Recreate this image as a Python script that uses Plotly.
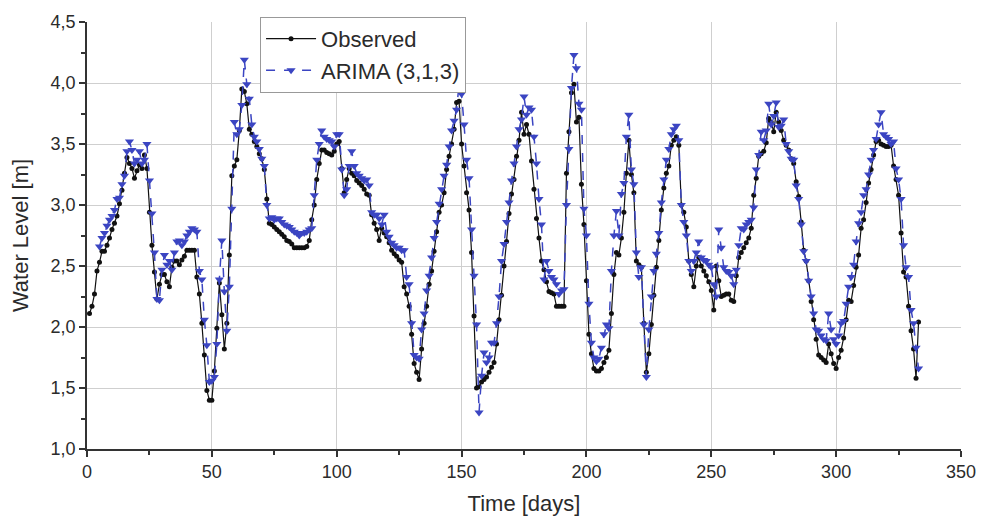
import plotly.graph_objects as go

# Observed water level, days 1..333
observed = [
    2.11, 2.17, 2.27, 2.46, 2.53, 2.62, 2.62, 2.67, 2.73, 2.80,
    2.85, 2.91, 3.01, 3.12, 3.26, 3.39, 3.34, 3.30, 3.22, 3.28,
    3.33, 3.30, 3.41, 3.30, 2.94, 2.67, 2.45, 2.23, 2.35, 2.43,
    2.43, 2.37, 2.33, 2.49, 2.54, 2.54, 2.51, 2.55, 2.58, 2.63,
    2.63, 2.63, 2.63, 2.41, 2.27, 2.03, 1.77, 1.48, 1.40, 1.40,
    1.64, 1.99, 2.36, 2.10, 1.82, 2.03, 2.59, 3.24, 3.32, 3.37,
    3.61, 3.95, 3.93, 3.83, 3.62, 3.58, 3.52, 3.48, 3.42, 3.38,
    3.29, 3.05, 2.85, 2.84, 2.82, 2.80, 2.78, 2.76, 2.74, 2.71,
    2.70, 2.68, 2.65, 2.65, 2.65, 2.65, 2.65, 2.66, 2.71, 2.88,
    3.00, 3.21, 3.34, 3.45, 3.45, 3.43, 3.42, 3.41, 3.44, 3.50,
    3.52, 3.30, 3.10, 3.21, 3.30, 3.26, 3.24, 3.20, 3.18, 3.16,
    3.13, 3.09, 3.08, 2.92, 2.85, 2.80, 2.71, 2.81, 2.77, 2.74,
    2.69, 2.63, 2.60, 2.58, 2.55, 2.53, 2.33, 2.27, 2.17, 1.94,
    1.70, 1.63, 1.57, 1.82, 2.03, 2.17, 2.35, 2.46, 2.62, 2.78,
    2.94, 3.00, 3.10, 3.29, 3.40, 3.50, 3.62, 3.84, 3.85, 3.50,
    3.32, 3.10, 2.96, 2.61, 2.09, 1.50, 1.51, 1.55, 1.57, 1.59,
    1.63, 1.67, 1.71, 1.86, 2.06, 2.26, 2.50, 2.70, 2.93, 3.09,
    3.21, 3.40, 3.53, 3.76, 3.58, 3.66, 3.58, 3.36, 3.13, 2.89,
    2.73, 2.54, 2.47, 2.37, 2.29, 2.28, 2.27, 2.17, 2.17, 2.17,
    2.17, 3.26, 3.60, 3.92, 3.99, 3.68, 3.72, 3.17, 2.84, 2.38,
    1.94, 1.78, 1.66, 1.64, 1.64, 1.66, 1.71, 1.75, 1.81, 2.11,
    2.43, 2.61, 2.59, 2.73, 2.94, 3.26, 3.53, 3.25, 3.10, 2.54,
    2.51, 2.49, 2.03, 1.63, 1.78, 2.02, 2.26, 2.49, 2.71, 2.96,
    3.14, 3.26, 3.32, 3.49, 3.53, 3.56, 3.49, 3.00, 2.94, 2.82,
    2.54, 2.43, 2.33, 2.50, 2.57, 2.50, 2.46, 2.42, 2.37, 2.30,
    2.14, 2.50, 2.38, 2.25, 2.26, 2.27, 2.27, 2.22, 2.21, 2.42,
    2.57, 2.61, 2.65, 2.69, 2.73, 2.81, 3.08, 3.22, 3.40, 3.42,
    3.44, 3.51, 3.71, 3.68, 3.60, 3.76, 3.68, 3.61, 3.53, 3.49,
    3.45, 3.38, 3.34, 3.19, 3.07, 2.86, 2.63, 2.54, 2.38, 2.21,
    2.06, 1.90, 1.77, 1.75, 1.73, 1.71, 1.86, 1.78, 1.70, 1.66,
    1.75, 1.81, 1.91, 2.06, 2.22, 2.21, 2.34, 2.49, 2.59, 2.81,
    2.88, 3.02, 3.18, 3.29, 3.41, 3.52, 3.53, 3.50, 3.49, 3.48,
    3.48, 3.49, 3.32, 3.21, 3.08, 2.77, 2.45, 2.41, 2.17, 1.97,
    1.82, 1.58, 2.04,
]
obs_start_day = 1

# ARIMA (3,1,3) values, days 5..333
arima = [
    2.66, 2.73, 2.77, 2.83, 2.88, 2.91, 2.96, 3.05, 3.06, 3.17,
    3.24, 3.44, 3.52, 3.45, 3.34, 3.37, 3.44, 3.34, 3.37, 3.50,
    3.20, 2.93, 2.61, 2.23, 2.22, 2.47, 2.59, 2.51, 2.54, 2.47,
    2.61, 2.70, 2.71, 2.67, 2.70, 2.75, 2.78, 2.81, 2.80, 2.78,
    2.46, 2.39, 2.06, 1.85, 1.55, 1.56, 1.59, 1.86, 2.39, 2.71,
    2.29, 1.97, 2.33, 2.97, 3.68, 3.58, 3.62, 3.82, 4.19, 3.99,
    3.87, 3.66, 3.56, 3.52, 3.46, 3.38, 3.32, 3.00, 2.89, 2.90,
    2.88, 2.89, 2.89, 2.86, 2.84, 2.83, 2.82, 2.80, 2.78, 2.77,
    2.75, 2.77, 2.77, 2.78, 2.80, 2.81, 3.08, 3.37, 3.50, 3.61,
    3.56, 3.54, 3.53, 3.52, 3.48, 3.58, 3.58, 3.29, 3.08, 3.13,
    3.32, 3.44, 3.32, 3.26, 3.24, 3.22, 3.20, 3.21, 3.16, 2.94,
    2.92, 2.92, 2.89, 2.84, 2.92, 2.78, 2.74, 2.69, 2.67, 2.65,
    2.65, 2.63, 2.63, 2.41, 2.35, 2.03, 1.77, 1.75, 1.74, 1.98,
    2.11, 2.30, 2.42, 2.57, 2.73, 2.86, 3.01, 3.13, 3.24, 3.33,
    3.48, 3.61, 3.69, 3.78, 3.99, 3.91, 3.66, 3.37, 3.22, 2.80,
    2.42, 2.02, 1.30, 1.60, 1.79, 1.71, 1.75, 1.87, 1.87, 2.03,
    2.25, 2.54, 2.68, 2.86, 3.02, 3.20, 3.34, 3.48, 3.62, 3.70,
    3.89, 3.74, 3.80, 3.78, 3.56, 3.34, 3.05, 2.84, 2.39, 2.54,
    2.46, 2.41, 2.39, 2.35, 2.27, 2.30, 2.31, 3.00, 3.46, 3.96,
    4.23, 4.12, 3.83, 3.78, 2.97, 2.75, 2.19, 1.87, 1.75, 1.72,
    1.74, 1.83, 1.94, 2.02, 1.99, 2.46, 2.75, 2.95, 2.75, 3.09,
    3.18, 3.56, 3.74, 3.29, 3.17, 2.61, 2.41, 2.49, 2.02, 1.59,
    1.98, 2.25, 2.46, 2.60, 2.77, 3.02, 3.21, 3.37, 3.46, 3.58,
    3.62, 3.65, 3.53, 3.00, 2.86, 2.75, 2.54, 2.46, 2.54, 2.61,
    2.70, 2.57, 2.55, 2.54, 2.51, 2.49, 2.35, 2.25, 2.80, 2.65,
    2.49, 2.46, 2.45, 2.42, 2.35, 2.47, 2.67, 2.81, 2.80, 2.84,
    2.86, 2.88, 2.98, 3.29, 3.41, 3.60, 3.53, 3.61, 3.83, 3.66,
    3.73, 3.84, 3.64, 3.65, 3.70, 3.50, 3.44, 3.38, 3.37, 3.16,
    3.05, 2.84, 2.62, 2.54, 2.38, 2.25, 2.11, 1.98, 1.97, 1.93,
    1.90, 1.89, 2.11, 1.98, 1.90, 1.86, 1.93, 2.03, 2.05, 2.19,
    2.33, 2.41, 2.51, 2.70, 2.85, 2.94, 3.08, 3.13, 3.25, 3.37,
    3.45, 3.54, 3.66, 3.76, 3.58, 3.56, 3.54, 3.50, 3.52, 3.30,
    3.21, 3.05, 2.67, 2.49, 2.41, 2.14, 2.03, 1.83, 1.66,
]
arima_start_day = 5

x_ticks = [0, 50, 100, 150, 200, 250, 300, 350]
y_ticks = [1.0, 1.5, 2.0, 2.5, 3.0, 3.5, 4.0, 4.5]

obs_days = list(range(obs_start_day, obs_start_day + len(observed)))
arima_days = list(range(arima_start_day, arima_start_day + len(arima)))

FONT = "Liberation Sans, Arial, sans-serif"
TXT = "#2b2b2b"

fig = go.Figure()
fig.add_trace(go.Scatter(
    x=obs_days, y=observed, name="Observed", mode="lines+markers",
    line=dict(color="#111111", width=1.2),
    marker=dict(symbol="circle", size=5, color="#111111"),
))
fig.add_trace(go.Scatter(
    x=arima_days, y=arima, name="ARIMA (3,1,3)", mode="lines+markers",
    line=dict(color="#3b45c2", width=1.5, dash="dash"),
    marker=dict(symbol="triangle-down", size=8, color="#3b45c2"),
))

fig.update_layout(
    width=992, height=524,
    margin=dict(l=87, r=31, t=17, b=70),
    paper_bgcolor="white", plot_bgcolor="white",
    separators=", ",
    font=dict(family=FONT, color=TXT, size=18),
    showlegend=True,
    legend=dict(
        x=0.198, y=1.012, xanchor="left", yanchor="top",
        bgcolor="white", bordercolor="#999999", borderwidth=1,
        font=dict(family=FONT, size=22, color=TXT),
        tracegroupgap=0, itemwidth=50,
    ),
)
fig.update_xaxes(
    range=[0, 350], tickvals=x_ticks, ticktext=[str(v) for v in x_ticks],
    showgrid=True, gridcolor="#cfcfcf", gridwidth=1,
    showline=True, linecolor="#333333", linewidth=1.5,
    ticks="outside", ticklen=6, tickwidth=1.5, tickcolor="#333333",
    minor=dict(tickvals=[25, 75, 125, 175, 225, 275, 325], ticks="outside",
               ticklen=4, tickwidth=1.5, tickcolor="#333333", showgrid=False),
    zeroline=False,
    title=dict(text="Time [days]", font=dict(size=22, family=FONT, color=TXT), standoff=14),
    tickfont=dict(size=18, family=FONT, color=TXT),
)
fig.update_yaxes(
    range=[1.0, 4.5], tickvals=y_ticks, tickformat=".1f",
    showgrid=True, gridcolor="#cfcfcf", gridwidth=1,
    showline=True, linecolor="#333333", linewidth=1.5,
    ticks="outside", ticklen=6, tickwidth=1.5, tickcolor="#333333",
    minor=dict(tickvals=[1.25, 1.75, 2.25, 2.75, 3.25, 3.75, 4.25], ticks="outside",
               ticklen=4, tickwidth=1.5, tickcolor="#333333", showgrid=False),
    zeroline=False,
    title=dict(text="Water Level [m]", font=dict(size=22, family=FONT, color=TXT), standoff=16),
    tickfont=dict(size=18, family=FONT, color=TXT),
)

fig.write_html("out.html")
